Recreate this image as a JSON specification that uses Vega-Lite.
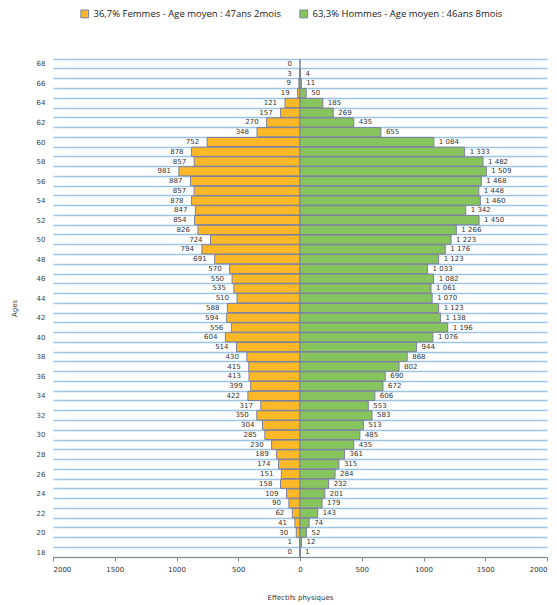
{
  "$schema": "https://vega.github.io/schema/vega-lite/v6.json",
  "width": 494,
  "height": 498,
  "autosize": {"type": "none"},
  "padding": {"left": 53, "top": 59, "right": 10, "bottom": 48},
  "background": "white",
  "config": {
    "view": {"stroke": null},
    "locale": {"number": {"decimal": ",", "thousands": " ", "grouping": [3], "currency": ["", " €"]}},
    "font": "DejaVu Sans"
  },
  "data": {
    "values": [
      {"age": 68, "sexe": "Femmes", "n": 0},
      {"age": 67, "sexe": "Femmes", "n": 3},
      {"age": 66, "sexe": "Femmes", "n": 9},
      {"age": 65, "sexe": "Femmes", "n": 19},
      {"age": 64, "sexe": "Femmes", "n": 121},
      {"age": 63, "sexe": "Femmes", "n": 157},
      {"age": 62, "sexe": "Femmes", "n": 270},
      {"age": 61, "sexe": "Femmes", "n": 348},
      {"age": 60, "sexe": "Femmes", "n": 752},
      {"age": 59, "sexe": "Femmes", "n": 878},
      {"age": 58, "sexe": "Femmes", "n": 857},
      {"age": 57, "sexe": "Femmes", "n": 981},
      {"age": 56, "sexe": "Femmes", "n": 887},
      {"age": 55, "sexe": "Femmes", "n": 857},
      {"age": 54, "sexe": "Femmes", "n": 878},
      {"age": 53, "sexe": "Femmes", "n": 847},
      {"age": 52, "sexe": "Femmes", "n": 854},
      {"age": 51, "sexe": "Femmes", "n": 826},
      {"age": 50, "sexe": "Femmes", "n": 724},
      {"age": 49, "sexe": "Femmes", "n": 794},
      {"age": 48, "sexe": "Femmes", "n": 691},
      {"age": 47, "sexe": "Femmes", "n": 570},
      {"age": 46, "sexe": "Femmes", "n": 550},
      {"age": 45, "sexe": "Femmes", "n": 535},
      {"age": 44, "sexe": "Femmes", "n": 510},
      {"age": 43, "sexe": "Femmes", "n": 588},
      {"age": 42, "sexe": "Femmes", "n": 594},
      {"age": 41, "sexe": "Femmes", "n": 556},
      {"age": 40, "sexe": "Femmes", "n": 604},
      {"age": 39, "sexe": "Femmes", "n": 514},
      {"age": 38, "sexe": "Femmes", "n": 430},
      {"age": 37, "sexe": "Femmes", "n": 415},
      {"age": 36, "sexe": "Femmes", "n": 413},
      {"age": 35, "sexe": "Femmes", "n": 399},
      {"age": 34, "sexe": "Femmes", "n": 422},
      {"age": 33, "sexe": "Femmes", "n": 317},
      {"age": 32, "sexe": "Femmes", "n": 350},
      {"age": 31, "sexe": "Femmes", "n": 304},
      {"age": 30, "sexe": "Femmes", "n": 285},
      {"age": 29, "sexe": "Femmes", "n": 230},
      {"age": 28, "sexe": "Femmes", "n": 189},
      {"age": 27, "sexe": "Femmes", "n": 174},
      {"age": 26, "sexe": "Femmes", "n": 151},
      {"age": 25, "sexe": "Femmes", "n": 158},
      {"age": 24, "sexe": "Femmes", "n": 109},
      {"age": 23, "sexe": "Femmes", "n": 90},
      {"age": 22, "sexe": "Femmes", "n": 62},
      {"age": 21, "sexe": "Femmes", "n": 41},
      {"age": 20, "sexe": "Femmes", "n": 30},
      {"age": 19, "sexe": "Femmes", "n": 1},
      {"age": 18, "sexe": "Femmes", "n": 0},
      {"age": 67, "sexe": "Hommes", "n": 4},
      {"age": 66, "sexe": "Hommes", "n": 11},
      {"age": 65, "sexe": "Hommes", "n": 50},
      {"age": 64, "sexe": "Hommes", "n": 185},
      {"age": 63, "sexe": "Hommes", "n": 269},
      {"age": 62, "sexe": "Hommes", "n": 435},
      {"age": 61, "sexe": "Hommes", "n": 655},
      {"age": 60, "sexe": "Hommes", "n": 1084},
      {"age": 59, "sexe": "Hommes", "n": 1333},
      {"age": 58, "sexe": "Hommes", "n": 1482},
      {"age": 57, "sexe": "Hommes", "n": 1509},
      {"age": 56, "sexe": "Hommes", "n": 1468},
      {"age": 55, "sexe": "Hommes", "n": 1448},
      {"age": 54, "sexe": "Hommes", "n": 1460},
      {"age": 53, "sexe": "Hommes", "n": 1342},
      {"age": 52, "sexe": "Hommes", "n": 1450},
      {"age": 51, "sexe": "Hommes", "n": 1266},
      {"age": 50, "sexe": "Hommes", "n": 1223},
      {"age": 49, "sexe": "Hommes", "n": 1176},
      {"age": 48, "sexe": "Hommes", "n": 1123},
      {"age": 47, "sexe": "Hommes", "n": 1033},
      {"age": 46, "sexe": "Hommes", "n": 1082},
      {"age": 45, "sexe": "Hommes", "n": 1061},
      {"age": 44, "sexe": "Hommes", "n": 1070},
      {"age": 43, "sexe": "Hommes", "n": 1123},
      {"age": 42, "sexe": "Hommes", "n": 1138},
      {"age": 41, "sexe": "Hommes", "n": 1196},
      {"age": 40, "sexe": "Hommes", "n": 1076},
      {"age": 39, "sexe": "Hommes", "n": 944},
      {"age": 38, "sexe": "Hommes", "n": 868},
      {"age": 37, "sexe": "Hommes", "n": 802},
      {"age": 36, "sexe": "Hommes", "n": 690},
      {"age": 35, "sexe": "Hommes", "n": 672},
      {"age": 34, "sexe": "Hommes", "n": 606},
      {"age": 33, "sexe": "Hommes", "n": 553},
      {"age": 32, "sexe": "Hommes", "n": 583},
      {"age": 31, "sexe": "Hommes", "n": 513},
      {"age": 30, "sexe": "Hommes", "n": 485},
      {"age": 29, "sexe": "Hommes", "n": 435},
      {"age": 28, "sexe": "Hommes", "n": 361},
      {"age": 27, "sexe": "Hommes", "n": 315},
      {"age": 26, "sexe": "Hommes", "n": 284},
      {"age": 25, "sexe": "Hommes", "n": 232},
      {"age": 24, "sexe": "Hommes", "n": 201},
      {"age": 23, "sexe": "Hommes", "n": 179},
      {"age": 22, "sexe": "Hommes", "n": 143},
      {"age": 21, "sexe": "Hommes", "n": 74},
      {"age": 20, "sexe": "Hommes", "n": 52},
      {"age": 19, "sexe": "Hommes", "n": 12},
      {"age": 18, "sexe": "Hommes", "n": 1}
    ]
  },
  "encoding": {
    "y": {
      "field": "age",
      "type": "ordinal",
      "sort": "descending",
      "scale": {"paddingInner": 0.06, "paddingOuter": 0.03},
      "axis": {
        "labelExpr": "datum.value % 2 == 0 ? datum.label : ''",
        "tickBand": "extent",
        "grid": true,
        "gridColor": "#9DC3E6",
        "gridWidth": 1.5,
        "ticks": false,
        "domain": false,
        "labelFontSize": 7,
        "labelColor": "#404040",
        "labelPadding": 8,
        "title": "Ages",
        "titleFontSize": 7,
        "titleFontWeight": "normal",
        "titleColor": "#404040",
        "titlePadding": 19
      }
    }
  },
  "layer": [
    {
      "transform": [{"filter": "datum.sexe == 'Femmes'"}],
      "encoding": {
        "x": {"field": "n", "type": "quantitative", "scale": {"domain": [-2000, 2000], "reverse": true}, "axis": null}
      },
      "layer": [
        {
          "mark": {"type": "bar", "stroke": "#7b7f9e", "strokeWidth": 1},
          "encoding": {
            "color": {
              "field": "sexe",
              "type": "nominal",
              "scale": {"domain": ["Femmes", "Hommes"], "range": ["#FDB827", "#88C45E"]},
              "legend": {
                "orient": "none",
                "direction": "horizontal",
                "legendX": 27,
                "legendY": -50,
                "title": null,
                "symbolType": "square",
                "symbolSize": 60,
                "symbolStrokeColor": "#6b6f96",
                "symbolStrokeWidth": 1,
                "labelFont": "Open Sans",
                "labelFontSize": 9.5,
                "labelColor": "#222222",
                "columnPadding": 16,
                "labelLimit": 400,
                "labelExpr": "datum.label == 'Femmes' ? '36,7% Femmes - Age moyen : 47ans 2mois' : '63,3% Hommes - Age moyen : 46ans 8mois'"
              }
            }
          }
        },
        {
          "mark": {"type": "text", "align": "right", "baseline": "middle", "dx": -8, "fontSize": 7, "color": "#333333"},
          "encoding": {
            "text": {"field": "n", "type": "quantitative", "format": ",d"},
            "fontWeight": {"condition": {"test": "datum.age == 68", "value": "bold"}, "value": "normal"}
          }
        }
      ]
    },
    {
      "transform": [{"filter": "datum.sexe == 'Hommes'"}],
      "encoding": {
        "x": {
          "field": "n",
          "type": "quantitative",
          "scale": {"domain": [-2000, 2000]},
          "axis": {
            "values": [-2000, -1500, -1000, -500, 0, 500, 1000, 1500, 2000],
            "labelExpr": "format(abs(datum.value), 'd')",
            "grid": false,
            "domainColor": "#888888",
            "tickColor": "#888888",
            "tickSize": 4,
            "labelFontSize": 7,
            "labelColor": "#333333",
            "labelPadding": 4,
            "title": "Effectifs physiques",
            "titleFontSize": 7,
            "titleFontWeight": "normal",
            "titleColor": "#333333",
            "titlePadding": 21
          }
        }
      },
      "layer": [
        {
          "mark": {"type": "bar", "stroke": "#7b7f9e", "strokeWidth": 1},
          "encoding": {
            "color": {"field": "sexe", "type": "nominal", "scale": {"domain": ["Femmes", "Hommes"], "range": ["#FDB827", "#88C45E"]}}
          }
        },
        {
          "mark": {"type": "text", "align": "left", "baseline": "middle", "dx": 5, "fontSize": 7, "color": "#333333"},
          "encoding": {"text": {"field": "n", "type": "quantitative", "format": ",d"}}
        }
      ]
    },
    {
      "mark": {"type": "rule", "color": "#5f63a8", "strokeWidth": 1.5},
      "encoding": {
        "x": {"datum": 0, "type": "quantitative", "scale": {"domain": [-2000, 2000]}, "axis": null}
      }
    }
  ],
  "resolve": {"scale": {"x": "independent"}}
}
